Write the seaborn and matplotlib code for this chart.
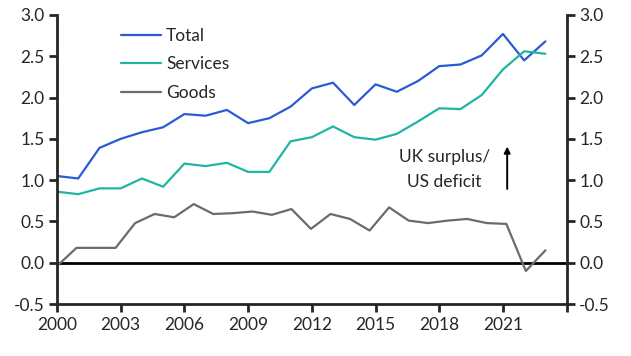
import numpy as np
import pandas as pd
import matplotlib
matplotlib.use("Agg")
import matplotlib.pyplot as plt
import seaborn as sns

# values (% of GDP)
years = list(range(2000, 2024))
total = [1.05, 1.02, 1.39, 1.50, 1.58, 1.64, 1.80, 1.78, 1.85, 1.69, 1.75, 1.89,
         2.11, 2.18, 1.91, 2.16, 2.07, 2.20, 2.38, 2.40, 2.51, 2.77, 2.45, 2.68]
services = [0.86, 0.83, 0.90, 0.90, 1.02, 0.92, 1.20, 1.17, 1.21, 1.10, 1.10, 1.47,
            1.52, 1.65, 1.52, 1.49, 1.56, 1.71, 1.87, 1.86, 2.03, 2.34, 2.56, 2.53]
# goods series has more points spread over the same span
goods = [-0.04, 0.18, 0.18, 0.18, 0.48, 0.59, 0.55, 0.71, 0.59, 0.60, 0.62, 0.58, 0.65,
         0.41, 0.59, 0.53, 0.39, 0.67, 0.51, 0.48, 0.51, 0.53, 0.48, 0.47, -0.10, 0.15]
goods_x = np.linspace(2000, 2023, len(goods))

x_ticks = list(range(2000, 2025, 3))
x_labels = [str(t) for t in x_ticks[:-1]] + [""]
y_ticks = [-0.5, 0.0, 0.5, 1.0, 1.5, 2.0, 2.5, 3.0]

df = pd.concat([
    pd.DataFrame({"year": years, "value": total, "series": "Total"}),
    pd.DataFrame({"year": years, "value": services, "series": "Services"}),
    pd.DataFrame({"year": goods_x, "value": goods, "series": "Goods"}),
])
colours = {"Total": "#2a5bd7", "Services": "#1fb5a5", "Goods": "#6b6b6b"}

sns.set_style("ticks")
plt.rcParams["font.family"] = ["Lato", "DejaVu Sans"]
fs = 12.5

fig = plt.figure(figsize=(6.31, 3.56), dpi=100)
ax = fig.add_axes([0.0903, 0.146, 0.8077, 0.812])

sns.lineplot(data=df, x="year", y="value", hue="series", palette=colours,
             linewidth=1.6, ax=ax, sort=False, estimator=None)

ax.axhline(0, color="black", linewidth=2, zorder=1)
ax.set_xlim(2000, 2024)
ax.set_ylim(-0.5, 3.0)
ax.set_xticks(x_ticks)
ax.set_xticklabels(x_labels)
ax.set_yticks(y_ticks)
ax.set_yticklabels([f"{v:.1f}" for v in y_ticks])
ax.set_xlabel("")
ax.set_ylabel("")

ax.spines["top"].set_visible(False)
for side in ["left", "right", "bottom"]:
    ax.spines[side].set_linewidth(2)
    ax.spines[side].set_visible(True)
ax.tick_params(axis="both", width=2, length=6, direction="out", labelsize=fs, pad=3)
ax.tick_params(axis="y", right=True, labelright=True)

ax.legend(loc="upper left", bbox_to_anchor=(0.095, 1.01), frameon=False,
          handlelength=2.3, handletextpad=0.3, labelspacing=0.72, fontsize=fs)

ax.text(2018.25, 1.125, "UK surplus/\nUS deficit", ha="center", va="center",
        fontsize=fs, linespacing=1.7)
ax.annotate("", xy=(2021.2, 1.44), xytext=(2021.2, 0.86),
            arrowprops=dict(arrowstyle="-|>", color="black", lw=1.4, mutation_scale=9))

fig.savefig("out.png", dpi=100)
